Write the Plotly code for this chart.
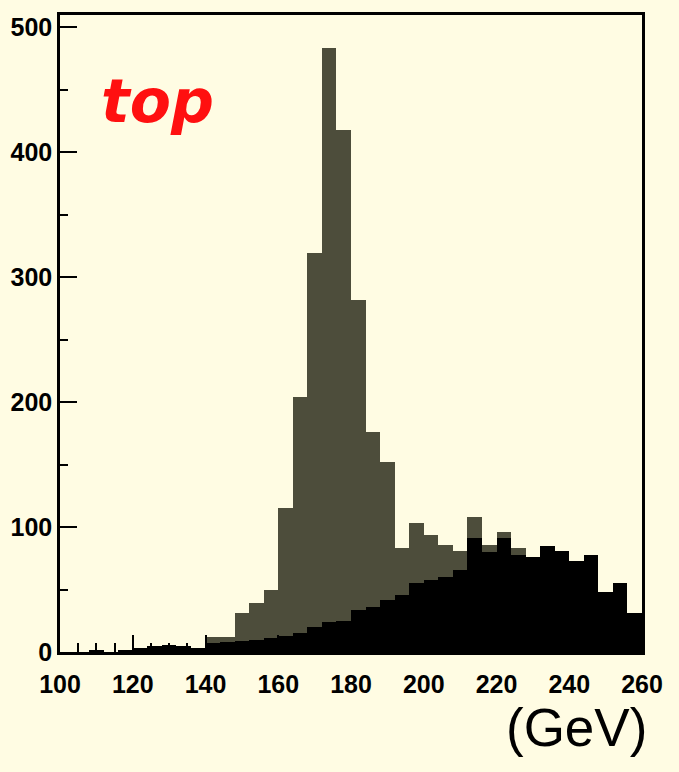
import plotly.graph_objects as go

# Bin lower edges (GeV), 4 GeV wide
bin_low = list(range(100, 260, 4))

# Total (grey) histogram
total_counts = [0, 0, 1, 0, 1, 3, 5, 6, 5, 3,
                12, 12, 31, 39, 50, 115, 204, 319, 483, 418,
                282, 176, 152, 83, 103, 94, 86, 81, 108, 86,
                96, 83, 76, 85, 81, 73, 78, 48, 55, 31]

# Background (black) histogram
bkg_counts = [0, 0, 1, 0, 1, 3, 5, 6, 5, 3,
              7, 8, 9, 10, 11, 13, 15, 20, 24, 25,
              34, 36, 42, 46, 55, 58, 60, 66, 91, 80,
              91, 78, 76, 85, 81, 73, 78, 48, 55, 31]

x_ticks = [100, 120, 140, 160, 180, 200, 220, 240, 260]
y_ticks = [0, 100, 200, 300, 400, 500]

BG = "#fffce3"
GREY = "#4d4d3b"

fig = go.Figure()
fig.add_trace(go.Bar(x=bin_low, y=total_counts, width=4, offset=0,
                     marker=dict(color=GREY, line=dict(width=0)), showlegend=False))
fig.add_trace(go.Bar(x=bin_low, y=bkg_counts, width=4, offset=0,
                     marker=dict(color="#000000", line=dict(width=0)), showlegend=False))

tickfont = dict(family="Liberation Sans", size=25, color="black", weight="bold")

fig.update_layout(
    width=679, height=772,
    margin=dict(l=60, r=37, t=15, b=120),
    paper_bgcolor=BG, plot_bgcolor=BG,
    barmode="overlay", bargap=0,
    showlegend=False,
    xaxis=dict(range=[100, 260], tickvals=x_ticks, ticks="inside", ticklen=17,
               tickwidth=2, tickcolor="black", automargin=False,
               minor=dict(dtick=5, ticks="inside", ticklen=9, tickwidth=2, tickcolor="black"),
               showline=True, linewidth=2.5, linecolor="black", mirror=True,
               showgrid=False, zeroline=False, tickfont=tickfont, ticklabelstandoff=8),
    yaxis=dict(range=[0, 509.6], tickvals=y_ticks, ticks="inside", ticklen=17,
               tickwidth=2, tickcolor="black", automargin=False,
               minor=dict(dtick=50, ticks="inside", ticklen=8, tickwidth=2, tickcolor="black"),
               showline=True, linewidth=2.5, linecolor="black", mirror=True,
               showgrid=False, zeroline=False, tickfont=tickfont, ticklabelstandoff=0),
    annotations=[
        dict(text="top", xref="paper", yref="paper", x=0.168, y=0.865,
             xanchor="center", yanchor="middle", showarrow=False,
             font=dict(family="DejaVu Sans", size=60, color="#ff1010", style="italic", weight="bold")),
        dict(text="(GeV)", xref="paper", yref="paper", x=0.888, y=-0.118,
             xanchor="center", yanchor="middle", showarrow=False,
             font=dict(family="Liberation Sans", size=53, color="black")),
    ],
)

fig.write_html("out.html")
